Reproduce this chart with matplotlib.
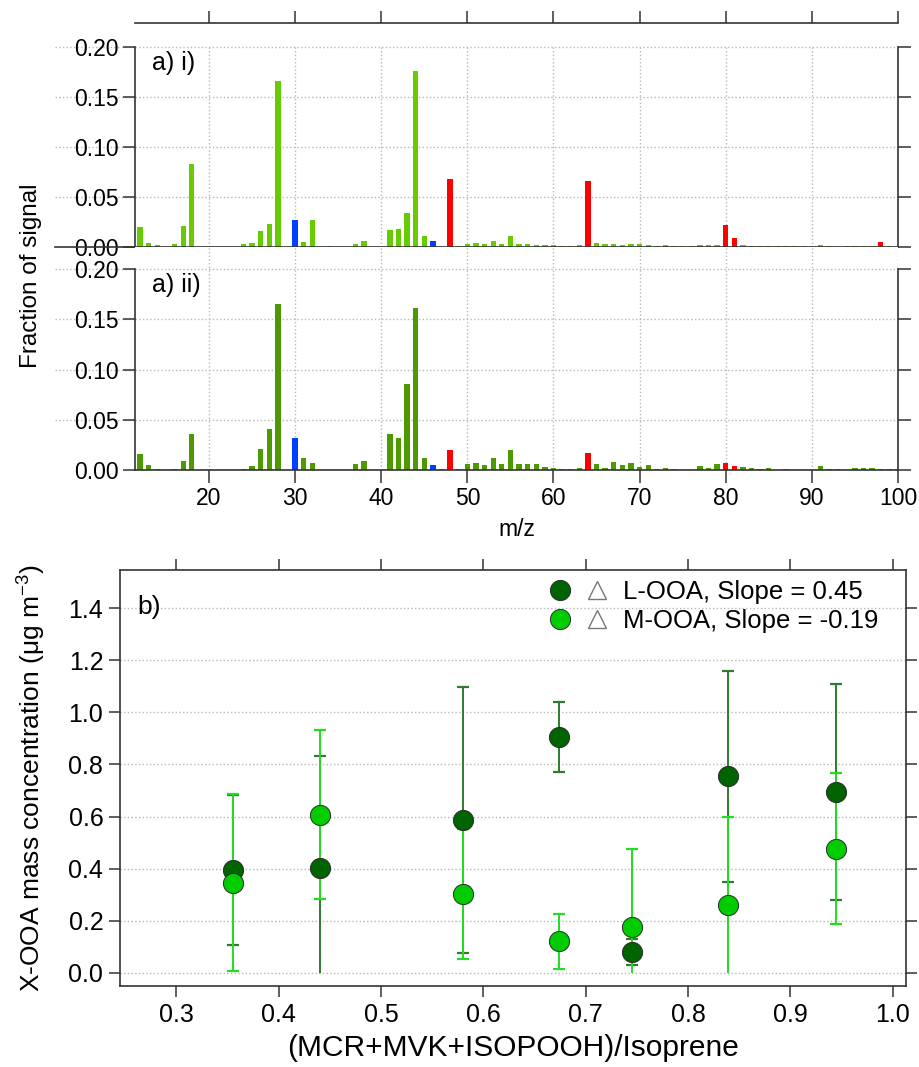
import numpy as np
import matplotlib
matplotlib.use("Agg")
import matplotlib.pyplot as plt
from matplotlib.lines import Line2D
from matplotlib.legend_handler import HandlerTuple
import matplotlib.transforms as mtransforms

plt.rcParams['font.family'] = ['Liberation Sans', 'DejaVu Sans']
plt.rcParams['font.size'] = 16
plt.rcParams['mathtext.fontset'] = 'custom'
plt.rcParams['mathtext.rm'] = 'Liberation Sans'
plt.rcParams['mathtext.default'] = 'regular'

# ---- data: mass spectra (m/z 12..100) ----
mz = np.arange(12, 101)

spec_i = [0.020, 0.004, 0.0017, 0.0, 0.003, 0.021, 0.083, 0.0005, 0.0005, 0.0,   # 12-21
          0.0, 0.0, 0.0035, 0.004, 0.016, 0.023, 0.166, 0.0, 0.027, 0.005,        # 22-31
          0.027, 0.0005, 0.001, 0.0, 0.0, 0.003, 0.006, 0.0, 0.0, 0.017,          # 32-41
          0.0177, 0.034, 0.1757, 0.0107, 0.0057, 0.0005, 0.068, 0.0007, 0.003, 0.004,  # 42-51
          0.0033, 0.0063, 0.0033, 0.0107, 0.0033, 0.0033, 0.0023, 0.0017, 0.0017, 0.0007,  # 52-61
          0.001, 0.0017, 0.0663, 0.004, 0.0033, 0.0033, 0.0023, 0.0033, 0.0027, 0.0023,  # 62-71
          0.001, 0.0017, 0.001, 0.001, 0.001, 0.0023, 0.0017, 0.0023, 0.0223, 0.0093,  # 72-81
          0.0017, 0.001, 0.001, 0.001, 0.001, 0.001, 0.0007, 0.001, 0.0005, 0.0023,  # 82-91
          0.001, 0.0005, 0.001, 0.001, 0.001, 0.001, 0.005, 0.001, 0.0005]          # 92-100

spec_ii = [0.016, 0.0053, 0.001, 0.0, 0.001, 0.0087, 0.0357, 0.0003, 0.0003, 0.0,   # 12-21
           0.0, 0.0, 0.001, 0.004, 0.0213, 0.041, 0.165, 0.0, 0.0317, 0.0123,       # 22-31
           0.007, 0.0003, 0.0003, 0.0, 0.0, 0.0057, 0.0087, 0.0, 0.0, 0.0357,       # 32-41
           0.0317, 0.0853, 0.1613, 0.0117, 0.0047, 0.0007, 0.020, 0.0013, 0.0057, 0.007,  # 42-51
           0.0047, 0.0123, 0.0063, 0.0197, 0.0063, 0.0057, 0.0057, 0.003, 0.0017, 0.001,  # 52-61
           0.001, 0.0017, 0.017, 0.0063, 0.0023, 0.008, 0.0047, 0.007, 0.0033, 0.0047,  # 62-71
           0.001, 0.0023, 0.0007, 0.0003, 0.0003, 0.004, 0.0017, 0.0057, 0.0073, 0.0043,  # 72-81
           0.0033, 0.0023, 0.001, 0.0023, 0.0003, 0.001, 0.0003, 0.0003, 0.0003, 0.004,  # 82-91
           0.001, 0.001, 0.0003, 0.0017, 0.0017, 0.0017, 0.001, 0.001, 0.0007]       # 92-100

blue_mz = [30, 46]
red_mz_i = [48, 64, 80, 81, 98]
red_mz_ii = [48, 64, 80, 81]

# ---- data: X-OOA vs oxidation ratio ----
ratio = [0.355, 0.440, 0.580, 0.674, 0.745, 0.839, 0.945]
looa = [0.394, 0.401, 0.586, 0.905, 0.080, 0.754, 0.694]
looa_err = [0.287, 0.430, 0.510, 0.134, 0.050, 0.405, 0.415]
mooa = [0.347, 0.607, 0.304, 0.121, 0.175, 0.262, 0.476]
mooa_err = [0.340, 0.325, 0.250, 0.107, 0.302, 0.336, 0.290]
legend_labels = ['L-OOA, Slope = 0.45', 'M-OOA, Slope = -0.19']

green_i = '#66CC00'
green_ii = '#4C9900'
blue = '#0040FF'
red = '#FF0000'
dark = '#006400'
light = '#00CC00'
spine_c = '#333333'
grid_c = '#b8b8b8'


def bar_colours(base, red_mz):
    cols = []
    for m in mz:
        if m in blue_mz:
            cols.append(blue)
        elif m in red_mz:
            cols.append(red)
        else:
            cols.append(base)
    return cols


fig = plt.figure(figsize=(9.2, 10.67), dpi=100)
ax1 = fig.add_axes([0.1467, 0.7685, 0.8293, 0.2099])
ax2 = fig.add_axes([0.1467, 0.5595, 0.8293, 0.2090])
ax3 = fig.add_axes([0.1304, 0.0759, 0.8543, 0.3899])

xt = np.arange(20, 101, 10)
yt = [0.0, 0.05, 0.10, 0.15, 0.20]

for ax, spec, base, reds, top in [(ax1, spec_i, green_i, red_mz_i, 0.224),
                                  (ax2, spec_ii, green_ii, red_mz_ii, 0.222)]:
    ax.bar(mz, spec, width=0.62, color=bar_colours(base, reds), linewidth=0, zorder=2)
    ax.set_xlim(11.4, 100)
    ax.set_ylim(0, top)
    ax.set_xticks(xt)
    ax.set_yticks(yt)
    ax.set_yticklabels(['%.2f' % v for v in yt])
    for s in ax.spines.values():
        s.set_color(spine_c)
        s.set_linewidth(1.2)
    ax.spines['left'].set_bounds(0, 0.2)
    ax.spines['right'].set_bounds(0, 0.2)
    ax.tick_params(axis='both', direction='out', length=9, width=1.1, color=spine_c,
                   pad=3, labelsize=16.5)
    ax.tick_params(axis='y', left=True, right=True, labelright=False)
    ax.grid(axis='y', ls=':', color=grid_c, lw=1, zorder=0)
    # dotted guides running through the tick labels
    tr = mtransforms.blended_transform_factory(ax.transAxes, ax.transData)
    for v in yt[1:]:
        ax.plot([-0.105, 0], [v, v], transform=tr, ls=':', color=grid_c, lw=1,
                clip_on=False, zorder=0)
    ax.text(0.022, 0.2 - 0.004, 'a) i)' if ax is ax1 else 'a) ii)', transform=tr,
            ha='left', va='top', fontsize=18)

# panel a) i)
ax1.tick_params(axis='x', bottom=False, top=True, labelbottom=False)
ax1.spines['bottom'].set_bounds(2.1, 100)
for v in xt[:-1]:
    ax1.axvline(v, ymax=0.2 / 0.224, ls=':', color=grid_c, lw=1, zorder=0)

# panel a) ii)
ax2.spines['top'].set_visible(False)
ax2.tick_params(axis='x', bottom=True, top=False)
ax2.grid(axis='x', ls=':', color=grid_c, lw=1, zorder=0)
ax2.set_xlabel('m/z', labelpad=6, fontsize=16.5)

fig.text(0.034, 0.742, 'Fraction of signal', rotation=90, ha='center', va='center',
         fontsize=17.5)

# panel b)
x = np.array(ratio)
for yv, ev, c_line in [(np.array(looa), np.array(looa_err), '#2E7D2E'),
                       (np.array(mooa), np.array(mooa_err), '#22DD22')]:
    lo = np.clip(yv - ev, 0, None)
    hi = yv + ev
    ax3.vlines(x, lo, hi, color=c_line, lw=1.4, zorder=3)
    ax3.plot(x, hi, ls='none', marker='_', ms=8, mew=1.6, color=c_line, zorder=3)
    keep = (yv - ev) > 0
    ax3.plot(x[keep], lo[keep], ls='none', marker='_', ms=8, mew=1.6, color=c_line, zorder=3)

h_l, = ax3.plot(ratio, looa, ls='none', marker='o', ms=14.5, mfc=dark, mec='#2a2a2a',
                mew=0.7, zorder=4)
h_m, = ax3.plot(ratio, mooa, ls='none', marker='o', ms=14.5, mfc=light, mec='#2a2a2a',
                mew=0.7, zorder=5)

tri = Line2D([], [], ls='none', marker='^', ms=13, mfc='none', mec='#777777', mew=1)
ax3.legend([(h_l, tri), (h_m, tri)], legend_labels,
           handler_map={tuple: HandlerTuple(ndivide=None, pad=0)},
           handlelength=2.9, handletextpad=0.3, labelspacing=0.2,
           loc='upper right', bbox_to_anchor=(0.995, 1.031), frameon=False, fontsize=18.5)

ax3.set_xlim(0.245, 1.013)
ax3.set_ylim(-0.05, 1.546)
ax3.set_xticks(np.arange(0.3, 1.01, 0.1))
ax3.set_xticklabels(['%.1f' % v for v in np.arange(0.3, 1.01, 0.1)])
y3 = np.arange(0, 1.41, 0.2)
ax3.set_yticks(y3)
ax3.set_yticklabels(['%.1f' % v for v in y3])
ax3.grid(axis='y', ls=':', color=grid_c, lw=1, zorder=0)
for s in ax3.spines.values():
    s.set_color(spine_c)
    s.set_linewidth(1.2)
ax3.tick_params(axis='both', direction='out', length=8, width=1.1, color=spine_c, pad=4,
                top=True, right=True, labeltop=False, labelright=False, labelsize=18)
ax3.set_xlabel('(MCR+MVK+ISOPOOH)/Isoprene', labelpad=5, fontsize=21.5)
ax3.set_ylabel('X-OOA mass concentration (μg m$^{-3}$)', fontsize=19)
ax3.yaxis.set_label_coords(-0.092, 0.5)
ax3.text(0.022, 0.94, 'b)', transform=ax3.transAxes, ha='left', va='top', fontsize=19)

fig.savefig('out.png', dpi=100)
